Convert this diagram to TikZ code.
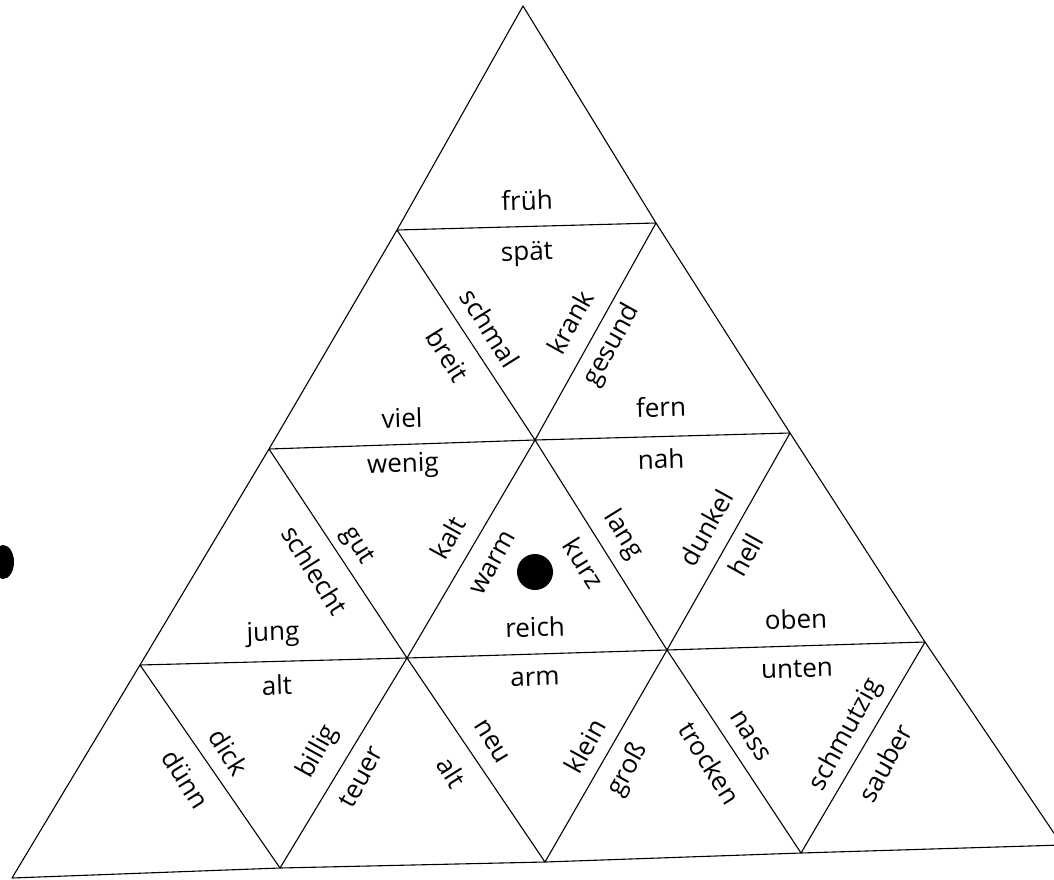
\documentclass[tikz,border=0pt]{standalone}
\usepackage{fontspec}
\newfontfamily\wordfont{Open Sans}
\tikzset{
  word/.style={font=\wordfont\fontsize{26}{30}\selectfont, inner sep=0pt},
  flat/.style={word, rotate=1.7},
  fall/.style={word, rotate=-58},
  rise/.style={word, rotate=61},
  edge/.style={line width=1.1pt, line join=round}
}
\begin{document}
\begin{tikzpicture}[x=1pt, y=-1pt]
  \useasboundingbox (0,0) rectangle (1054,880);
  % corners of the small triangles
  \coordinate (v00) at (12,878);
  \coordinate (v10) at (280,868);
  \coordinate (v20) at (545,862);
  \coordinate (v30) at (801,853);
  \coordinate (v40) at (1062,845);
  \coordinate (v01) at (140,665);
  \coordinate (v11) at (407,658);
  \coordinate (v21) at (667,650);
  \coordinate (v31) at (925,642);
  \coordinate (v02) at (269,449);
  \coordinate (v12) at (535,440);
  \coordinate (v22) at (790,433);
  \coordinate (v03) at (397,230);
  \coordinate (v13) at (656,223);
  \coordinate (v04) at (523,6);

  % outline and inner cuts
  \draw[edge] (v00) -- (v10) -- (v20) -- (v30) -- (v40) -- (v31) -- (v22) -- (v13) -- (v04) -- (v03) -- (v02) -- (v01) -- cycle;
  \draw[edge] (v01) -- (v11) -- (v21) -- (v31);
  \draw[edge] (v02) -- (v12) -- (v22);
  \draw[edge] (v03) -- (v13);
  \draw[edge] (v03) -- (v12) -- (v21) -- (v30);
  \draw[edge] (v02) -- (v11) -- (v20);
  \draw[edge] (v01) -- (v10);
  \draw[edge] (v10) -- (v11) -- (v12) -- (v13);
  \draw[edge] (v20) -- (v21) -- (v22);
  \draw[edge] (v30) -- (v31);

  % top rows
  \node[flat] (frueh) at (527,200) {früh};
  \node[flat] (spaet) at (527,254) {spät};
  \node[fall] (schmal) at (490,328) {schmal};
  \node[fall] (breit) at (448,355) {breit};
  \node[rise] (krank) at (570,322) {krank};
  \node[rise] (gesund) at (612,345) {gesund};
  \node[flat] (viel) at (402,418) {viel};
  \node[flat] (fern) at (661,407) {fern};

  % middle row
  \node[flat] (wenig) at (403,466) {wenig};
  \node[fall] (schlecht) at (315,570) {schlecht};
  \node[fall] (gut) at (357,546) {gut};
  \node[rise] (kalt) at (448,538) {kalt};
  \node[rise] (warm) at (493,563) {warm};
  \node[flat] (jung) at (273,634) {jung};
  \node[flat] (reich) at (535,627) {reich};
  \node[flat] (nah) at (661,459) {nah};
  \node[fall] (kurz) at (584,563) {kurz};
  \node[fall] (lang) at (623,535) {lang};
  \node[rise] (dunkel) at (706,528) {dunkel};
  \node[rise] (hell) at (746,555) {hell};
  \node[flat] (oben) at (796,619) {oben};
  \node[circle, fill, minimum size=36pt, inner sep=0pt] (dot) at (535,572) {};

  % bottom row
  \node[flat] (alttop) at (277,685) {alt};
  \node[fall] (dick) at (229,752) {dick};
  \node[fall] (duenn) at (186,779) {dünn};
  \node[rise] (billig) at (318,752) {billig};
  \node[rise] (teuer) at (361,777) {teuer};
  \node[fall] (altside) at (452,772) {alt};
  \node[fall] (neu) at (492,742) {neu};
  \node[flat] (arm) at (535,679) {arm};
  \node[rise] (klein) at (585,746) {klein};
  \node[rise] (gross) at (628,770) {groß};
  \node[fall] (trocken) at (710,763) {trocken};
  \node[fall] (nass) at (750,736) {nass};
  \node[flat] (unten) at (797,669) {unten};
  \node[rise] (schmutzig) at (846,735) {schmutzig};
  \node[rise] (sauber) at (885,763) {sauber};

  % punch hole at the left border
  \fill (3,562) ellipse [x radius=11pt, y radius=17pt];
\end{tikzpicture}
\end{document}
